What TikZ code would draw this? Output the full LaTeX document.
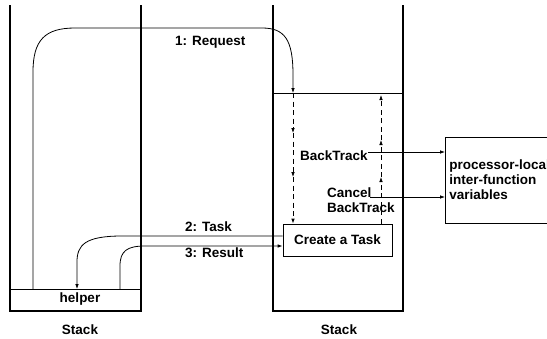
\documentclass[tikz,border=0pt]{standalone}
\usepackage{fontspec}
\setmainfont{Liberation Sans}
\usetikzlibrary{arrows.meta}
\tikzset{
  wall/.style={line width=1.8pt, line cap=rect},
  thin/.style={line width=0.8pt},
  tip/.style={-{Latex[length=5pt,width=3.6pt]}},
  dline/.style={thin, tip, dash pattern=on 5pt off 3.5pt},
  lbl/.style={inner sep=0pt, font=\fontsize{13.5}{15}\selectfont\bfseries},
  box/.style={draw, thin, inner xsep=4pt, font=\fontsize{13.5}{15}\selectfont\bfseries},
}
\begin{document}
\begin{tikzpicture}[x=1pt,y=-1pt]
\useasboundingbox (0,0) rectangle (547,338);
\clip (0,0) rectangle (547,338);
\fill[white] (0,0) rectangle (547,338);

% left stack with the helper frame at its bottom
\coordinate (helperTop) at (75,289);
\draw[thin] (10,0 |- helperTop) -- (141,0 |- helperTop);
\node[lbl] (helper) at (80,299) {helper};
\draw[wall] (10,6) -- (10,311) -- (141,311) -- (141,6);
\node[lbl] (stackL) at (80,330) {Stack};

% right stack with its inner frame line
\draw[wall] (273,6) -- (273,311) -- (403,311) -- (403,6);
\coordinate (frameL) at (273,93);
\coordinate (frameR) at (403,93);
\draw[thin] (frameL) -- (frameR);
\node[lbl] (stackR) at (339,330) {Stack};

% task creation box
\node[draw, thin, minimum width=109pt, minimum height=32pt, inner sep=0pt,
      font=\fontsize{13.5}{15}\selectfont\bfseries] (task) at (337.5,240) {Create a Task};

% processor-local variables box
\node[box, align=left, minimum height=86pt, anchor=west] (proc) at (445,180)
  {processor-local\\inter-function\\variables};

% 1: Request
\draw[thin, tip] (33,0 |- helperTop) -- (33,72)
  .. controls (33,40) and (45,28) .. (75,28) -- (262,28)
  .. controls (285,28) and (293,40) .. (293,75) -- (293,0 |- frameL);
\node[lbl, anchor=west] (req) at (175,42) {1: Request};

% downward dashed chain
\coordinate (d1) at (293,93);
\coordinate (d2) at (293,133);
\coordinate (d3) at (293,177);
\draw[dline] (d1) -- (d2);
\draw[dline] (d2) -- (d3);
\draw[dline] (d3) -- (d3 |- task.north);

% upward dashed chain
\coordinate (u1) at (381,177);
\coordinate (u2) at (381,140);
\coordinate (u3) at (381,95);
\draw[dline] (u1 |- task.north) -- (u1);
\draw[dline] (u1) -- (u2);
\draw[dline] (u2) -- (u3);

% BackTrack / Cancel BackTrack
\node[lbl, anchor=west] (bt) at (300,156) {BackTrack};
\draw[thin, tip] (368,152) -- (proc.west |- 0,152);
\node[lbl, anchor=west, align=left] (cbt) at (327,200.5) {Cancel\\BackTrack};
\draw[thin, tip] (370,197) -- (proc.west |- 0,197);

% 2: Task
\draw[thin, tip] (task.west |- 0,236) -- (122,236)
  .. controls (85,236) and (77,245) .. (77,262) -- (77,0 |- helperTop);
\node[lbl, anchor=west] (tasklbl) at (185,227) {2: Task};

% 3: Result
\draw[thin, tip] (120,0 |- helperTop) -- (120,266)
  .. controls (120,251) and (127,246) .. (145,246) -- (task.west |- 0,246);
\node[lbl, anchor=west] (reslbl) at (185,253) {3: Result};
\end{tikzpicture}
\end{document}
